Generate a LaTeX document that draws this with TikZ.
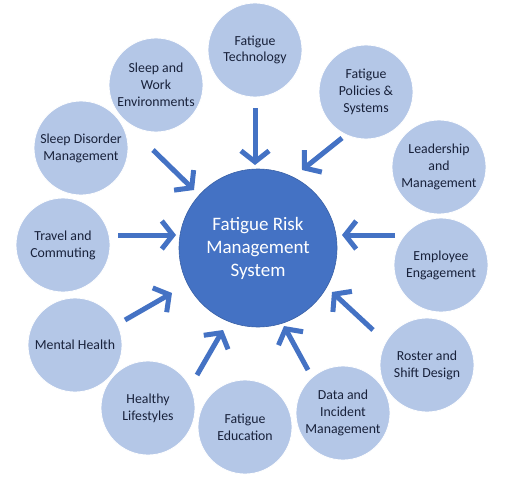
\documentclass[tikz,border=0pt]{standalone}
\usepackage{fontspec}
\setmainfont{Carlito}
\usetikzlibrary{arrows.meta}
\definecolor{outerfill}{HTML}{B4C7E7}
\definecolor{centerfill}{HTML}{4472C4}
\definecolor{arrowcol}{HTML}{4472C4}
\definecolor{txtcol}{HTML}{18213A}
\begin{document}
\begin{tikzpicture}[x=1pt,y=-1pt,
  outer/.style={circle, fill=outerfill, draw=white, line width=0.8pt, minimum size=94pt, inner sep=0pt,
    align=center, text=txtcol, font=\fontsize{13.8}{16.8}\selectfont},
  hub/.style={circle, fill=centerfill, draw=centerfill!85!black, line width=0.6pt, minimum size=158pt, inner sep=0pt,
    align=center, text=white, font=\fontsize{19}{23}\selectfont},
  feed/.style={draw=arrowcol, line width=5pt, -{Straight Barb[length=11pt,width=28pt]}}
]
\useasboundingbox (0,0) rectangle (510,484);
\fill[white] (0,0) rectangle (510,484);

\node[hub] (frms) at (258,248) {Fatigue Risk\\Management\\System};

\node[outer] (tech) at (255,50) {Fatigue\\Technology};
\node[outer] (pol) at (366,92) {Fatigue\\Policies \&\\Systems};
\node[outer] (lead) at (439,167) {Leadership\\and\\Management};
\node[outer] (emp) at (441,265) {Employee\\Engagement};
\node[outer] (rost) at (427,365) {Roster and\\Shift Design};
\node[outer] (data) at (343,413) {Data and\\Incident\\Management};
\node[outer] (edu) at (245,427) {Fatigue\\Education};
\node[outer] (hl) at (148,408) {Healthy\\Lifestyles};
\node[outer] (mh) at (75,345) {Mental Health};
\node[outer] (trav) at (63,245) {Travel and\\Commuting};
\node[outer] (sdm) at (81,148) {Sleep Disorder\\Management};
\node[outer] (swe) at (156,85) {Sleep and\\Work\\Environments};

\coordinate (a1s) at (255,108); \coordinate (a1e) at (255,165);
\coordinate (a2s) at (342,138); \coordinate (a2e) at (302,170);
\coordinate (a3s) at (395,235); \coordinate (a3e) at (342,235);
\coordinate (a4s) at (373,330); \coordinate (a4e) at (332,292);
\coordinate (a5s) at (308,370); \coordinate (a5e) at (284,326);
\coordinate (a6s) at (197,375); \coordinate (a6e) at (223,330);
\coordinate (a7s) at (125,320); \coordinate (a7e) at (172,293);
\coordinate (a8s) at (118,235); \coordinate (a8e) at (176,235);
\coordinate (a9s) at (153,150); \coordinate (a9e) at (194,190);

\foreach \i in {1,...,9} { \draw[feed] (a\i s) -- (a\i e); }
\end{tikzpicture}
\end{document}
